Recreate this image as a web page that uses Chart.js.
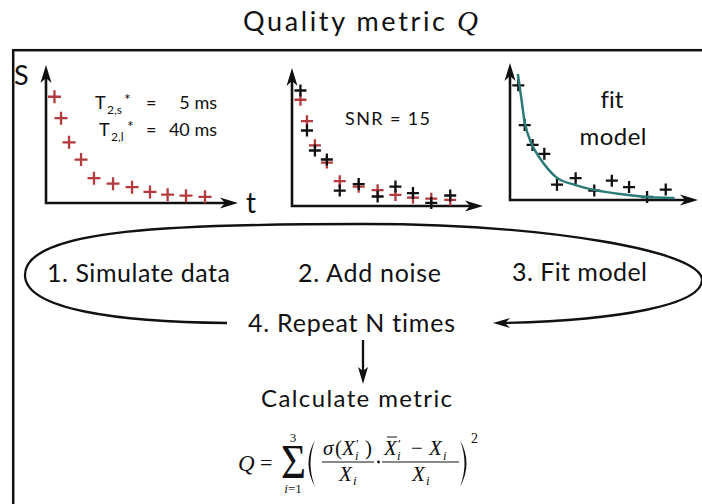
<!DOCTYPE html>
<html lang="en">
<head>
    <meta charset="UTF-8">
    <title>Quality metric Q</title>
    <script src="https://cdn.jsdelivr.net/npm/chart.js"></script>
    <style>
        * { margin: 0; padding: 0; box-sizing: border-box; }
        body {
            width: 702px;
            height: 504px;
            overflow: hidden;
            position: relative;
            background: #fff;
            font-family: Lato, sans-serif;
        }
        svg { position: absolute; left: 0; top: 0; }
        svg text { fill: #111; font-variant-ligatures: none; }
        .math text { font-family: 'Liberation Serif', serif; }
        canvas { position: absolute; }
    </style>
</head>
<body>
    <!-- frame, labels, loop and formula -->
    <svg width="702" height="504" viewBox="0 0 702 504">
        <text x="243" y="31" font-size="27" textLength="235">Quality metric <tspan font-family="Liberation Serif" font-style="italic" font-size="29">Q</tspan></text>
        <rect x="13.2" y="50.2" width="800" height="600" fill="none" stroke="#111" stroke-width="2.5"/>

        <!-- plot labels -->
        <text x="14" y="85" font-size="27">S</text>
        <text x="246" y="213" font-size="28">t</text>

        <text x="95" y="109" font-size="18">T</text>
        <text x="107" y="114" font-size="12">2,s</text>
        <text x="124" y="105" font-size="16">*</text>
        <text x="146" y="109" font-size="18">=</text>
        <text x="217" y="109" font-size="18" text-anchor="end">5 ms</text>

        <text x="99" y="136" font-size="18">T</text>
        <text x="111" y="141" font-size="12">2,l</text>
        <text x="127" y="132" font-size="16">*</text>
        <text x="146" y="136" font-size="18">=</text>
        <text x="217" y="136" font-size="18" text-anchor="end">40 ms</text>

        <text x="345" y="125" font-size="18" textLength="85">SNR = 15</text>
        <text x="612" y="108" font-size="24" text-anchor="middle">fit</text>
        <text x="613" y="145" font-size="24" text-anchor="middle" textLength="67">model</text>

        <!-- loop -->
        <path d="M 227 323 C 120 322, 25 310, 25 275 C 25 228, 180 224, 364 224 C 540 224, 702 250, 702 280 C 702 305, 620 320, 505 323"
              fill="none" stroke="#111" stroke-width="2.3"/>
        <path d="M 493 323 L 510 318 L 505 323 L 510 328 Z" fill="#111"/>

        <text x="47" y="282" font-size="25" textLength="183">1. Simulate data</text>
        <text x="298" y="282" font-size="25" textLength="143">2. Add noise</text>
        <text x="512" y="281" font-size="25" textLength="135">3. Fit model</text>
        <text x="248" y="332" font-size="25" textLength="207">4. Repeat N times</text>

        <line x1="363" y1="340" x2="363" y2="373" stroke="#111" stroke-width="2.3"/>
        <path d="M 363 384 L 358 367 L 363 371 L 368 367 Z" fill="#111"/>

        <text x="261" y="407" font-size="24" textLength="191">Calculate metric</text>

        <!-- formula -->
        <g class="math">
            <text x="238" y="471" font-size="23" font-style="italic">Q</text>
            <text x="260" y="470" font-size="22">=</text>
            <text x="281" y="478" font-size="48" textLength="25" lengthAdjust="spacingAndGlyphs">Σ</text>
            <text x="293" y="442" font-size="13" text-anchor="middle">3</text>
            <text x="293" y="493" font-size="13" text-anchor="middle"><tspan font-style="italic">i</tspan>=1</text>
            <path d="M 315 440 Q 302 463.5 315 487 Q 306 463.5 315 440 Z" fill="#111"/>

            <text font-size="21"><tspan x="323" y="455" font-style="italic">σ</tspan><tspan x="335" y="455">(</tspan><tspan x="342" y="455" font-style="italic">X</tspan><tspan x="356" y="448" font-size="13">′</tspan><tspan x="355" y="460" font-size="13" font-style="italic">i</tspan><tspan x="365" y="455">)</tspan></text>
            <line x1="322" y1="462" x2="374" y2="462" stroke="#111" stroke-width="1"/>
            <text font-size="21"><tspan x="339" y="481" font-style="italic">X</tspan><tspan x="353" y="485" font-size="13" font-style="italic">i</tspan></text>

            <circle cx="378.5" cy="462" r="1.4" fill="#111"/>

            <line x1="387" y1="437" x2="397" y2="437" stroke="#111" stroke-width="1"/>
            <text font-size="21"><tspan x="384" y="455" font-style="italic">X</tspan><tspan x="398" y="448" font-size="13">′</tspan><tspan x="397" y="460" font-size="13" font-style="italic">i</tspan><tspan x="411" y="455">−</tspan><tspan x="429" y="455" font-style="italic">X</tspan><tspan x="443" y="460" font-size="13" font-style="italic">i</tspan></text>
            <line x1="382" y1="462" x2="459" y2="462" stroke="#111" stroke-width="1"/>
            <text font-size="21"><tspan x="412" y="481" font-style="italic">X</tspan><tspan x="426" y="485" font-size="13" font-style="italic">i</tspan></text>

            <path d="M 460 440 Q 473 463.5 460 487 Q 469 463.5 460 440 Z" fill="#111"/>
            <text x="471" y="443" font-size="14">2</text>
        </g>
    </svg>

    <canvas id="simChart" width="216" height="162" style="left:34px; top:53px;"></canvas>
    <canvas id="noiseChart" width="215" height="162" style="left:280px; top:56px;"></canvas>
    <canvas id="fitChart" width="212" height="161" style="left:498px; top:51px;"></canvas>

    <script>
        // echo times (arbitrary units, axis runs 0..12)
        const tValues = [0.53, 0.94, 1.44, 2.19, 3.0, 4.19, 5.38, 6.5, 7.6, 8.75, 9.94];
        // simulated signal (axis runs 0..1)
        const signal = [0.77, 0.615, 0.44, 0.315, 0.18, 0.14, 0.115, 0.08, 0.06, 0.053, 0.045];
        // signal with noise added
        const noisy = [0.837, 0.547, 0.402, 0.337, 0.112, 0.159, 0.069, 0.141, 0.094, 0.022, 0.076];
        // fitted model curve
        const fitT = [0.5, 0.75, 0.94, 1.375, 1.875, 2.94, 4.19, 5.44, 7.06, 8.75, 10.5];
        const fitS = [0.92, 0.72, 0.565, 0.41, 0.31, 0.167, 0.109, 0.072, 0.043, 0.022, 0.014];

        const RED = '#b33a3e';
        const BLACK = '#111111';
        const TEAL = '#2b7a76';

        const toPoints = (xs, ys) => xs.map((x, i) => ({ x: x, y: ys[i] }));

        function arrowHead(ctx, x, y, dx, dy) {
            const L = 18, W = 5.5, N = 5;
            const nx = -dy, ny = dx;
            ctx.beginPath();
            ctx.moveTo(x, y);
            ctx.lineTo(x - L * dx + W * nx, y - L * dy + W * ny);
            ctx.lineTo(x - (L - N) * dx, y - (L - N) * dy);
            ctx.lineTo(x - L * dx - W * nx, y - L * dy - W * ny);
            ctx.closePath();
            ctx.fill();
        }

        // axes with arrow heads along the chart area edges
        const axisArrows = {
            id: 'axisArrows',
            beforeDatasetsDraw(chart) {
                const ctx = chart.ctx;
                const a = chart.chartArea;
                ctx.save();
                ctx.strokeStyle = BLACK;
                ctx.fillStyle = BLACK;
                ctx.lineWidth = 2.6;
                ctx.beginPath();
                ctx.moveTo(a.left, a.top + 10);
                ctx.lineTo(a.left, a.bottom);
                ctx.lineTo(a.right - 10, a.bottom);
                ctx.stroke();
                arrowHead(ctx, a.left, a.top, 0, -1);
                arrowHead(ctx, a.right, a.bottom, 1, 0);
                ctx.restore();
            }
        };

        function crossSet(data, color, radius) {
            return {
                data: data,
                pointStyle: 'cross',
                pointRadius: radius,
                pointBorderColor: color,
                pointBorderWidth: 2.3,
                borderColor: color,
                showLine: false,
                clip: false
            };
        }

        function makeChart(id, datasets) {
            return new Chart(document.getElementById(id).getContext('2d'), {
                type: 'scatter',
                data: { datasets: datasets },
                options: {
                    responsive: false,
                    animation: false,
                    layout: { padding: 12 },
                    plugins: { legend: { display: false }, tooltip: { enabled: false } },
                    scales: {
                        x: { type: 'linear', min: 0, max: 12, display: false },
                        y: { type: 'linear', min: 0, max: 1, display: false }
                    }
                },
                plugins: [axisArrows]
            });
        }

        makeChart('simChart', [crossSet(toPoints(tValues, signal), RED, 6.5)]);

        makeChart('noiseChart', [
            crossSet(toPoints(tValues, noisy), BLACK, 6),
            crossSet(toPoints(tValues, signal), RED, 6)
        ]);

        makeChart('fitChart', [
            {
                data: toPoints(fitT, fitS),
                showLine: true,
                borderColor: TEAL,
                borderWidth: 2.5,
                pointRadius: 0,
                cubicInterpolationMode: 'monotone',
                clip: false
            },
            crossSet(toPoints(tValues, noisy), BLACK, 6)
        ]);
    </script>
</body>
</html>
